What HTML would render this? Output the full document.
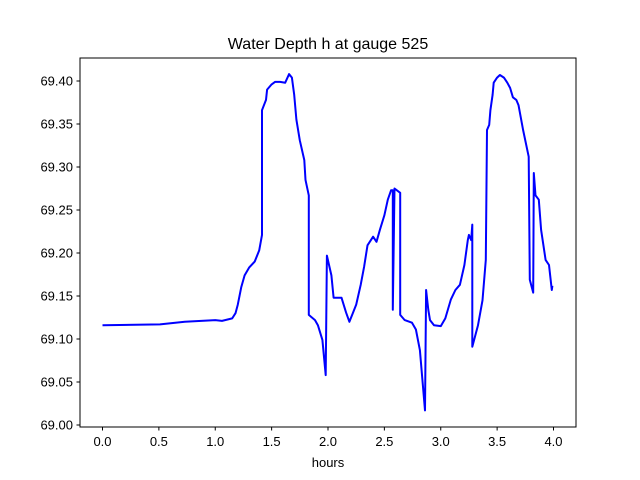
<!DOCTYPE html>
<html><head><meta charset="utf-8"><style>
body{margin:0;background:#fff;}
svg{display:block;font-family:"Liberation Sans","DejaVu Sans",sans-serif;}
</style></head><body>
<svg id="chart" width="640" height="480" viewBox="0 0 640 480" xmlns="http://www.w3.org/2000/svg">
<rect width="640" height="480" fill="#fff"/>
<text x="328" y="49" font-size="16" text-anchor="middle">Water Depth h at gauge 525</text>
<text x="328" y="467" font-size="13" text-anchor="middle">hours</text>
<g id="ticks"></g>
<path id="series" fill="none" stroke="#0000ff" stroke-width="2" stroke-linejoin="round"/>
<rect x="80" y="58" width="496" height="369" fill="none" stroke="#000" stroke-width="1"/>
</svg>
<script>
const xTicks=[0,0.5,1,1.5,2,2.5,3,3.5,4];
const xTickLabels=["0.0","0.5","1.0","1.5","2.0","2.5","3.0","3.5","4.0"];
const yTicks=[69.00,69.05,69.10,69.15,69.20,69.25,69.30,69.35,69.40];
const yTickLabels=["69.00","69.05","69.10","69.15","69.20","69.25","69.30","69.35","69.40"];
const hours=[0,0.51,0.73,1.0,1.06,1.15,1.18,1.20,1.23,1.26,1.30,1.35,1.39,1.415,1.415,1.45,1.46,1.50,1.53,1.575,1.62,1.655,1.68,1.70,1.72,1.75,1.79,1.80,1.83,1.83,1.885,1.91,1.95,1.98,1.99,2.03,2.05,2.10,2.12,2.16,2.19,2.22,2.25,2.29,2.32,2.35,2.40,2.43,2.46,2.50,2.53,2.56,2.575,2.575,2.59,2.64,2.64,2.68,2.745,2.78,2.815,2.86,2.87,2.89,2.905,2.94,3.0,3.04,3.09,3.13,3.17,3.21,3.24,3.25,3.27,3.28,3.28,3.33,3.37,3.40,3.41,3.43,3.44,3.46,3.47,3.50,3.525,3.56,3.59,3.615,3.64,3.67,3.69,3.73,3.78,3.79,3.82,3.825,3.84,3.87,3.89,3.93,3.96,3.985,3.99];
const depth=[69.116,69.117,69.120,69.122,69.121,69.124,69.130,69.140,69.160,69.174,69.183,69.190,69.203,69.221,69.366,69.378,69.390,69.396,69.399,69.399,69.398,69.408,69.404,69.384,69.355,69.331,69.308,69.285,69.267,69.128,69.122,69.116,69.099,69.058,69.197,69.174,69.148,69.148,69.148,69.131,69.120,69.130,69.140,69.163,69.184,69.209,69.219,69.213,69.227,69.244,69.262,69.273,69.273,69.134,69.275,69.270,69.128,69.122,69.119,69.111,69.087,69.017,69.157,69.134,69.122,69.116,69.115,69.124,69.146,69.157,69.163,69.186,69.215,69.221,69.215,69.233,69.091,69.116,69.145,69.192,69.343,69.349,69.366,69.384,69.398,69.404,69.407,69.404,69.398,69.392,69.381,69.378,69.372,69.343,69.312,69.169,69.154,69.293,69.267,69.262,69.227,69.192,69.186,69.157,69.162];
const X=v=>102.5+v*112.75;
const Y=v=>81+(69.40-v)*860;
const NS="http://www.w3.org/2000/svg";
const g=document.getElementById('ticks');
function mk(tag,attrs){const e=document.createElementNS(NS,tag);for(const k in attrs)e.setAttribute(k,attrs[k]);return e;}
xTicks.forEach((t,i)=>{
  const l=mk('line',{x1:X(t),x2:X(t),y1:427,y2:430.5,stroke:'#000'});
  
  
  g.appendChild(l);
  const s=mk('text',{x:X(t),y:446,'font-size':13,'text-anchor':'middle'});
  
  
  s.textContent=xTickLabels[i];g.appendChild(s);
});
yTicks.forEach((t,i)=>{
  const l=mk('line',{x1:76.5,x2:80,y1:Y(t),y2:Y(t),stroke:'#000'});
  
  
  g.appendChild(l);
  const s=mk('text',{x:73,y:Y(t)+4.5,'font-size':13,'text-anchor':'end'});
  
  
  s.textContent=yTickLabels[i];g.appendChild(s);
});
document.getElementById('series').setAttribute('d',hours.map((h,i)=>(i?'L':'M')+X(h).toFixed(1)+' '+Y(depth[i]).toFixed(1)).join(' '));
</script>
</body></html>
